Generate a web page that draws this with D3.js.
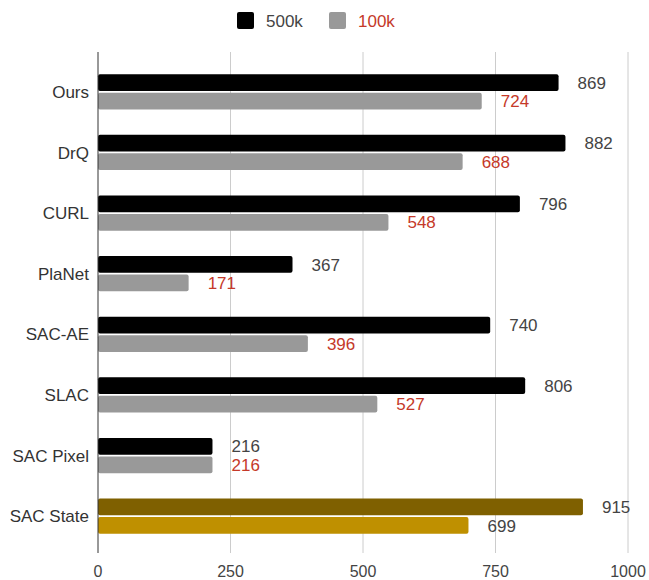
<!DOCTYPE html>
<html>
<head>
<meta charset="utf-8">
<script src="https://cdn.jsdelivr.net/npm/d3@7"></script>
<style>
  body { margin: 0; background: #fff; }
  text { font-family: "Liberation Sans", Arial, sans-serif; }
</style>
</head>
<body>
<script>
// chart data
var methods = ["Ours", "DrQ", "CURL", "PlaNet", "SAC-AE", "SLAC", "SAC Pixel", "SAC State"];
var scores500k = [869, 882, 796, 367, 740, 806, 216, 915];
var scores100k = [724, 688, 548, 171, 396, 527, 216, 699];
var seriesNames = ["500k", "100k"];
var xTicks = [0, 250, 500, 750, 1000];

var svgWidth = 649;
var svgHeight = 580;

var svg = d3.select("body")
  .append("svg")
  .attr("width", svgWidth)
  .attr("height", svgHeight);

var x = d3.scaleLinear().domain([0, 1000]).range([98, 628]);

var y = d3.scaleBand()
  .domain(methods)
  .range([61.5, 546.5])
  .paddingInner(0.42)
  .paddingOuter(0.21);

var sub = d3.scaleBand()
  .domain(seriesNames)
  .range([0, y.bandwidth()])
  .paddingInner(0.1);

// gridlines
svg.append("g")
  .selectAll("line")
  .data(xTicks.slice(1))
  .join("line")
  .attr("x1", d => x(d)).attr("x2", d => x(d))
  .attr("y1", 52).attr("y2", 553)
  .attr("stroke", "#cccccc")
  .attr("stroke-width", 1);

// bottom tick labels
svg.append("g")
  .selectAll("text")
  .data(xTicks)
  .join("text")
  .attr("x", d => x(d))
  .attr("y", 577)
  .attr("text-anchor", "middle")
  .attr("font-size", 16)
  .attr("fill", "#444")
  .text(d => d);

function barColor(method, series) {
  if (method === "SAC State") return series === "500k" ? "#7f6000" : "#bf9000";
  return series === "500k" ? "#000000" : "#999999";
}
function labelColor(method, series) {
  if (method === "SAC State" || series === "500k") return "#444444";
  return "#c53929";
}

var rows = methods.map(function(m, i) {
  return [
    {method: m, series: "500k", value: scores500k[i]},
    {method: m, series: "100k", value: scores100k[i]}
  ];
});

var groups = svg.append("g")
  .selectAll("g")
  .data(rows)
  .join("g")
  .attr("transform", d => `translate(0, ${y(d[0].method)})`);

groups.selectAll("rect")
  .data(d => d)
  .join("rect")
  .attr("x", x(0))
  .attr("y", d => sub(d.series))
  .attr("width", d => x(d.value) - x(0))
  .attr("height", sub.bandwidth())
  .attr("rx", 2)
  .attr("fill", d => barColor(d.method, d.series));

groups.selectAll("text.val")
  .data(d => d)
  .join("text")
  .attr("class", "val")
  .attr("x", d => x(d.value) + 19)
  .attr("y", d => sub(d.series) + sub.bandwidth() / 2)
  .attr("dy", "0.36em")
  .attr("font-size", 17)
  .attr("fill", d => labelColor(d.method, d.series))
  .text(d => d.value);

// category labels
svg.append("g")
  .selectAll("text")
  .data(methods)
  .join("text")
  .attr("x", 89)
  .attr("y", d => y(d) + y.bandwidth() / 2)
  .attr("dy", "0.36em")
  .attr("text-anchor", "end")
  .attr("font-size", 17)
  .attr("fill", "#333")
  .text(d => d);

// zero axis line
svg.append("line")
  .attr("x1", x(0)).attr("x2", x(0))
  .attr("y1", 52).attr("y2", 553)
  .attr("stroke", "#333")
  .attr("stroke-width", 1);

// legend
var legendItems = [
  {name: seriesNames[0], box: "#000000", text: "#444444", x: 237},
  {name: seriesNames[1], box: "#999999", text: "#c53929", x: 329}
];
var legend = svg.append("g")
  .selectAll("g")
  .data(legendItems)
  .join("g")
  .attr("transform", d => `translate(${d.x}, 12)`);
legend.append("rect")
  .attr("width", 17).attr("height", 17)
  .attr("rx", 2)
  .attr("fill", d => d.box);
legend.append("text")
  .attr("x", 29)
  .attr("y", 8.5)
  .attr("dy", "0.36em")
  .attr("font-size", 17)
  .attr("fill", d => d.text)
  .text(d => d.name);
</script>
</body>
</html>
